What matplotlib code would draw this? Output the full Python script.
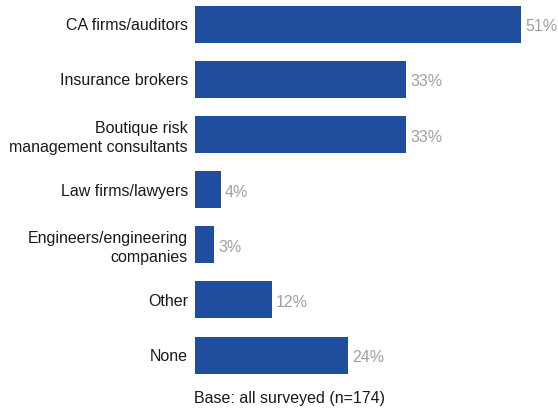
import matplotlib
matplotlib.use("Agg")
import matplotlib.pyplot as plt

categories = [
    "CA firms/auditors",
    "Insurance brokers",
    "Boutique risk\nmanagement consultants",
    "Law firms/lawyers",
    "Engineers/engineering\ncompanies",
    "Other",
    "None",
]
values = [51, 33, 33, 4, 3, 12, 24]
footnote = "Base: all surveyed (n=174)"

bar_color = "#1f4e9f"
value_color = "#a0a0a0"

plt.rcParams["font.family"] = ["Liberation Sans", "DejaVu Sans"]
fs = 11.5

W, H = 558, 411
fig = plt.figure(figsize=(W / 100, H / 100), dpi=100)
fig.patch.set_facecolor("white")

# axes spans from the bar baseline to the right edge
left_px, top_px, bottom_px = 195, 0, 380
ax = fig.add_axes([left_px / W, 1 - bottom_px / H, 1 - left_px / W, (bottom_px - top_px) / H])

px_per_pct = (521 - 195) / 51
ax.set_xlim(0, (W - left_px) / px_per_pct)
spacing = (355 - 24) / 6
ax.set_ylim(6 + (bottom_px - 355) / spacing, -(24 - top_px) / spacing)

pos = list(range(len(categories)))
ax.barh(pos, values, height=37 / spacing, color=bar_color)

for p, v in zip(pos, values):
    ax.annotate(f"{v}%", (v, p), xytext=(3, -2), textcoords="offset points",
                ha="left", va="center", color=value_color, fontsize=11.5)

ax.set_yticks(pos)
ax.set_yticklabels(categories, fontsize=fs, color="#1a1a1a", multialignment="right",
                   linespacing=1.35)
ax.tick_params(axis="y", length=0, pad=5)
ax.set_xticks([])
for s in ax.spines.values():
    s.set_visible(False)

fig.text(194 / W, 1 - 398 / H, footnote, ha="left", va="center",
         fontsize=fs, color="#1a1a1a")

fig.savefig("out.png", dpi=100)
